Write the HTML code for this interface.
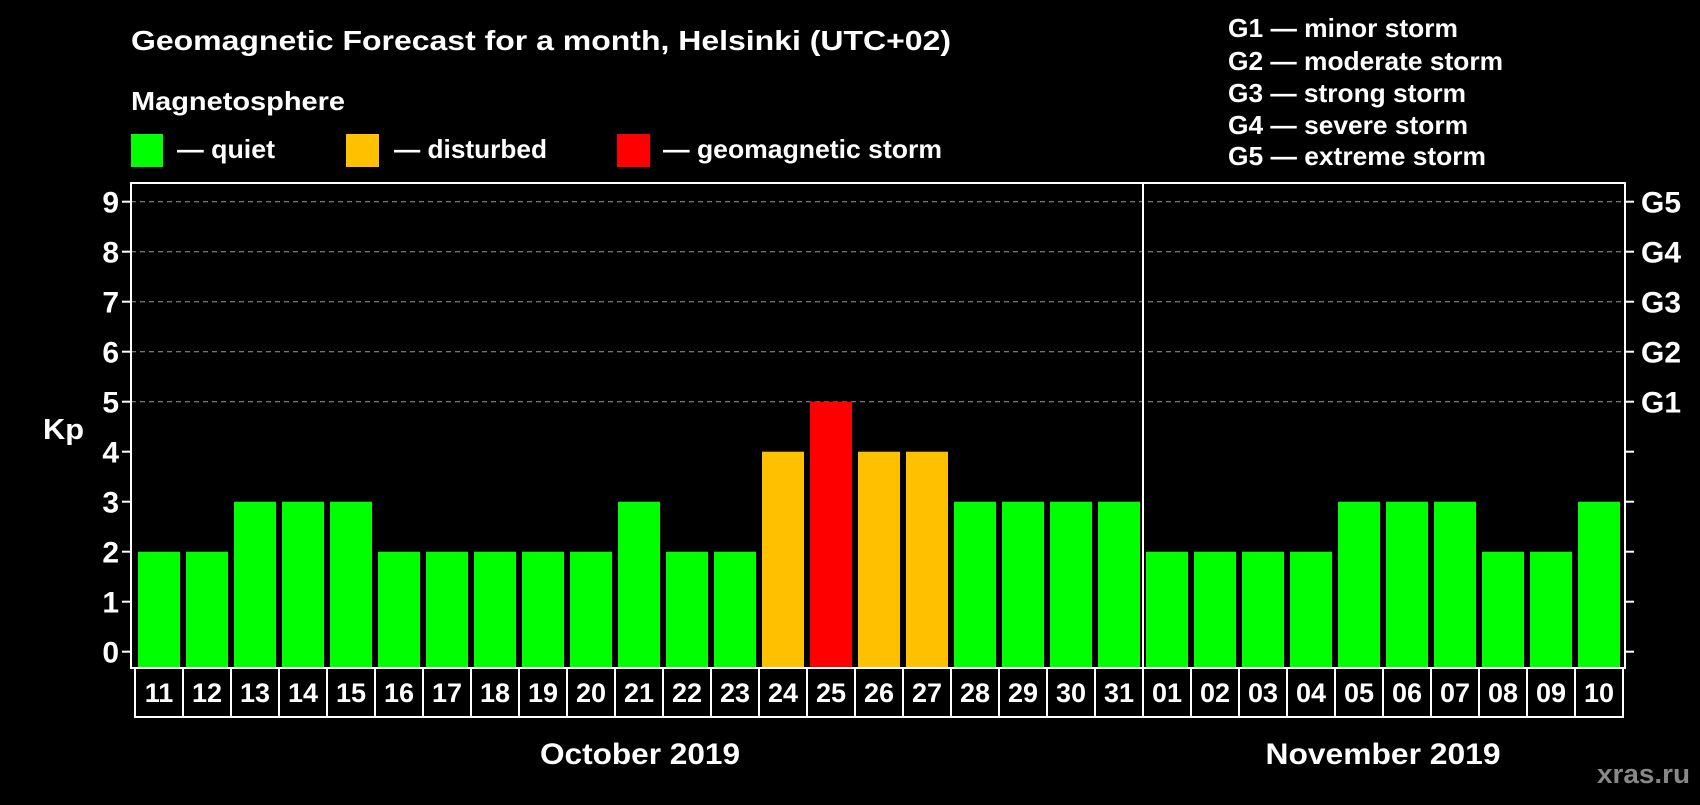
<!DOCTYPE html>
<html><head><meta charset="utf-8"><style>
body{margin:0;background:#000;width:1700px;height:800px;overflow:hidden}
svg text{font-family:"Liberation Sans",Arial,sans-serif;font-weight:bold;fill:#fff}
</style></head><body>
<svg id="c" width="1700" height="800" xmlns="http://www.w3.org/2000/svg">
<text x="131" y="50" font-size="28" textLength="820" lengthAdjust="spacingAndGlyphs">Geomagnetic Forecast for a month, Helsinki (UTC+02)</text>
<text x="131" y="110" font-size="26" textLength="214" lengthAdjust="spacingAndGlyphs">Magnetosphere</text>
<rect x="131" y="134" width="32" height="33" fill="#00ff00"/>
<text x="177" y="158" font-size="26" textLength="98" lengthAdjust="spacingAndGlyphs">— quiet</text>
<rect x="346" y="134" width="33" height="33" fill="#ffc000"/>
<text x="394" y="158" font-size="26" textLength="153" lengthAdjust="spacingAndGlyphs">— disturbed</text>
<rect x="617" y="134" width="33" height="33" fill="#ff0000"/>
<text x="663" y="158" font-size="26" textLength="279" lengthAdjust="spacingAndGlyphs">— geomagnetic storm</text>
<g font-size="26">
<text x="1228" y="37" textLength="230" lengthAdjust="spacingAndGlyphs">G1 — minor storm</text>
<text x="1228" y="70" textLength="275" lengthAdjust="spacingAndGlyphs">G2 — moderate storm</text>
<text x="1228" y="102" textLength="238" lengthAdjust="spacingAndGlyphs">G3 — strong storm</text>
<text x="1228" y="134" textLength="240" lengthAdjust="spacingAndGlyphs">G4 — severe storm</text>
<text x="1228" y="165" textLength="258" lengthAdjust="spacingAndGlyphs">G5 — extreme storm</text>
</g>
<text x="43" y="439" font-size="29" textLength="41" lengthAdjust="spacingAndGlyphs">Kp</text>
<g id="plot"></g>
<text x="640" y="764" font-size="30" text-anchor="middle" textLength="200" lengthAdjust="spacingAndGlyphs">October 2019</text>
<text x="1383" y="764" font-size="30" text-anchor="middle" textLength="235" lengthAdjust="spacingAndGlyphs">November 2019</text>
<text x="1690" y="783" font-size="27" text-anchor="end" textLength="93" lengthAdjust="spacingAndGlyphs" style="fill:#888">xras.ru</text>
</svg>
<script>
const days=["11","12","13","14","15","16","17","18","19","20","21","22","23","24","25","26","27","28","29","30","31","01","02","03","04","05","06","07","08","09","10"];
const kp=[2,2,3,3,3,2,2,2,2,2,3,2,2,4,5,4,4,3,3,3,3,2,2,2,2,3,3,3,2,2,3];
const yTicks=[0,1,2,3,4,5,6,7,8,9];
const gLabels=["G1","G2","G3","G4","G5"];
const NS="http://www.w3.org/2000/svg";
const L=131,R=1625,T=183,B=668,y0=651.7,unit=50,x0=138,step=48,bw=42;
const y=v=>y0-v*unit, x=i=>x0+i*step;
const g=document.getElementById('plot');
function mk(t,a){const e=document.createElementNS(NS,t);for(const k in a)e.setAttribute(k,a[k]);g.appendChild(e);return e;}
yTicks.forEach(v=>{
 if(v>=5){const l=mk('line',{x1:L,x2:R,y1:y(v),y2:y(v),stroke:'#999','stroke-dasharray':'5,4','stroke-width':1});
 
 }
 const t=mk('line',{x1:L-9,x2:L,y1:y(v),y2:y(v),stroke:'#fff','stroke-width':2});
 
 
 const tr=mk('line',{x1:R,x2:R+9,y1:y(v),y2:y(v),stroke:'#fff','stroke-width':2});
 
 
 const tx=mk('text',{x:L-12,y:y(v)+11,'font-size':30,'text-anchor':'end'});tx.textContent=v;
 
 
});
gLabels.forEach((s,i)=>{const t=mk('text',{x:R+16,y:y(5+i)+11,'font-size':30});t.textContent=s;
 
 });
kp.forEach((v,i)=>{
 const c=v>=5?'#ff0000':v>=4?'#ffc000':'#00ff00';
 const b=mk('rect',{x:x(i),y:y(v),width:bw,height:B-y(v),fill:c});
 
 
 const bx=mk('rect',{x:x(i)-3,y:B,width:step,height:49,fill:'none',stroke:'#fff','stroke-width':2});
 
 
 const t=mk('text',{x:x(i)+bw/2,y:B+34,'font-size':27,'text-anchor':'middle'});t.textContent=days[i];
 
 
});
const fr=mk('rect',{x:L,y:T,width:R-L,height:B-T,fill:'none',stroke:'#fff','stroke-width':2});


const di=days.indexOf("01");
const dv=mk('line',{x1:x(di)-3,x2:x(di)-3,y1:T,y2:B,stroke:'#fff','stroke-width':2});


</script>
</body></html>
